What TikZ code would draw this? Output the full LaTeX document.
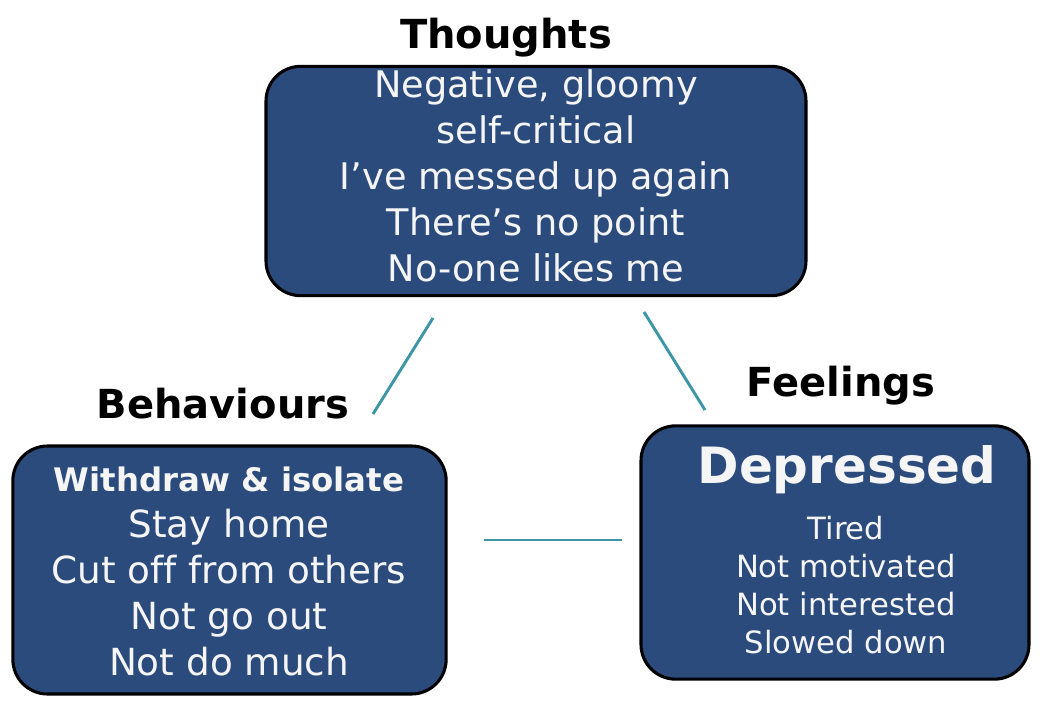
\documentclass[tikz,border=0pt]{standalone}
\usepackage{fontspec}
\setmainfont{DejaVu Sans}[Ligatures=NoCommon]
\definecolor{boxblue}{RGB}{43,75,125}
\definecolor{linkteal}{RGB}{60,150,165}
\definecolor{softwhite}{RGB}{245,245,245}
\begin{document}
\begin{tikzpicture}[x=0.75pt,y=-0.75pt]
	\tikzstyle{panel}=[rectangle,rounded corners=26pt,draw=black,line width=2.3pt,fill=boxblue,inner sep=0pt]
	\tikzstyle{heading}=[font=\fontsize{30}{36}\selectfont\bfseries,text=black,anchor=base]
	\tikzstyle{body}=[align=center,text=softwhite,inner sep=0pt]
	\tikzstyle{link}=[draw=linkteal,line width=2.2pt]
	\useasboundingbox (0,0) rectangle (1045,700);

	\node[panel, minimum width=405pt, minimum height=172pt] (thoughtsbox) at (536,181) {};
	\node[panel, minimum width=325pt, minimum height=186pt] (behavbox) at (229.5,570) {};
	\node[panel, minimum width=291pt, minimum height=190pt] (feelbox) at (835,552.5) {};

	\node[heading] (thoughts) at (506,48) {Thoughts};
	\node[heading] (behaviours) at (223,418) {Behaviours};
	\node[heading] (feelings) at (841,396) {Feelings};

	\node[body, font=\fontsize{27.5}{34.5}\selectfont] (thoughtstext) at (536,176)
		{Negative, gloomy\\self-critical\\I’ve messed up again\\There’s no point\\No-one likes me};
	\node[body, font=\fontsize{28}{34.5}\selectfont] (behavtext) at (229,571)
		{{\fontsize{24.3}{34.5}\selectfont\bfseries Withdraw \& isolate}\\Stay home\\Cut off from others\\Not go out\\Not do much};
	\node[body, font=\fontsize{37.5}{40}\selectfont\bfseries] (depressed) at (847,470) {Depressed};
	\node[body, font=\fontsize{23}{28.5}\selectfont] (feeltext) at (846,585)
		{Tired\\Not motivated\\Not interested\\Slowed down};

	% short links between the three panels
	\coordinate (tb1) at (433,318);
	\coordinate (tb2) at (373,414);
	\coordinate (tf1) at (644,312);
	\coordinate (tf2) at (705,410);
	\coordinate (bf1) at (484,540);
	\coordinate (bf2) at (622,540);

	\draw[link] (tb1) -- (tb2);
	\draw[link] (tf1) -- (tf2);
	\draw[link] (bf1) -- (bf2);
\end{tikzpicture}
\end{document}
